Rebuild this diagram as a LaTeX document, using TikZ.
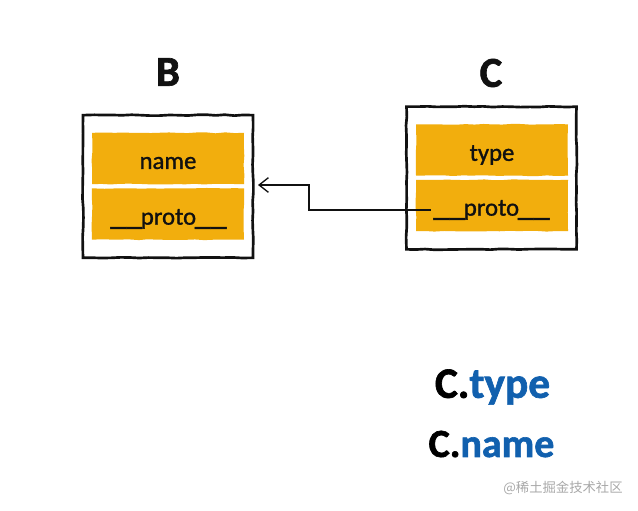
\documentclass[tikz,border=0pt]{standalone}
\usepackage{fontspec}
\usetikzlibrary{arrows.meta,decorations.pathmorphing}
\setmainfont{Carlito}
\newfontfamily\cjk{Noto Sans CJK SC}
\newfontfamily\slotfont[FakeBold=1.2]{Carlito}
\newfontfamily\headfont[BoldFeatures={FakeBold=1.5}]{Carlito}
\definecolor{boxyellow}{HTML}{F2AE0D}
\definecolor{linkblue}{HTML}{1160AE}
\definecolor{inkblack}{HTML}{111111}
\definecolor{markgray}{HTML}{A8A8A8}
\newcommand{\wideunders}{\begingroup\fontsize{24}{20}\selectfont\_\_\endgroup}
\tikzset{
  rough/.style={decorate,decoration={random steps,segment length=7pt,amplitude=0.35pt}},
  outerbox/.style={draw=inkblack,line width=2pt,fill=white,minimum width=127.5pt,minimum height=107pt,inner sep=0pt,outer sep=0pt,rough},
  slot/.style={fill=boxyellow,minimum width=114pt,minimum height=38.5pt,inner sep=0pt,outer sep=0pt,rough},
  slottext/.style={font=\slotfont\fontsize{18.5}{20}\selectfont,text=inkblack,inner sep=0pt,outer sep=0pt},
  title/.style={font=\headfont\bfseries\fontsize{32}{34}\selectfont,text=inkblack,inner sep=0pt},
  access/.style={inner sep=0pt},
  link/.style={draw=inkblack,line width=1pt},
}
\begin{document}
\begin{tikzpicture}[x=0.75pt,y=-0.75pt]
\pgfmathsetseed{7}
\useasboundingbox (0,0) rectangle (638,510);
\node[title] (btitle) at (168,72) {B};
\node[title] (ctitle) at (491,73) {C};
\node[outerbox] (bbox) at (168,186.5) {};
\node[outerbox] (cbox) at (491.5,178) {};
\node[slot] (bname) at (168,158.5) {};
\node[slot] (bproto) at (168,214) {};
\node[slot] (ctype) at (492,150) {};
\node[slot] (cproto) at (492,205.5) {};
\node[slottext] (bnamet) at (168,163) {name};
\node[slottext] (bprotot) at (168.5,219) {\wideunders\kern-1pt proto\kern-1pt\wideunders};
\node[slottext] (ctypet) at (492,155) {type};
\node[slottext] (cprotot) at (491.5,210) {\wideunders\kern-1pt proto\kern-1pt\wideunders};
\coordinate (bendlow) at (309,210);
\coordinate (bendhigh) at (309,185);
\coordinate (tipend) at (258,185);
\draw[link,shorten <=2pt,-{Straight Barb[length=7pt,width=11pt]}] (cprotot.west) -- (bendlow) -- (bendhigh) -- (tipend);
\node[access,font=\headfont\bfseries\fontsize{32.5}{34}\selectfont] (ctypeacc) at (492.5,387) {C.\textcolor{linkblue}{type}};
\node[access,font=\headfont\bfseries\fontsize{30}{34}\selectfont] (cnameacc) at (491.5,444) {C.\textcolor{linkblue}{name}};
\node[font=\cjk\fontsize{10}{12}\selectfont,text=markgray,inner sep=0pt] (mark) at (563,488) {@稀土掘金技术社区};
\end{tikzpicture}
\end{document}
